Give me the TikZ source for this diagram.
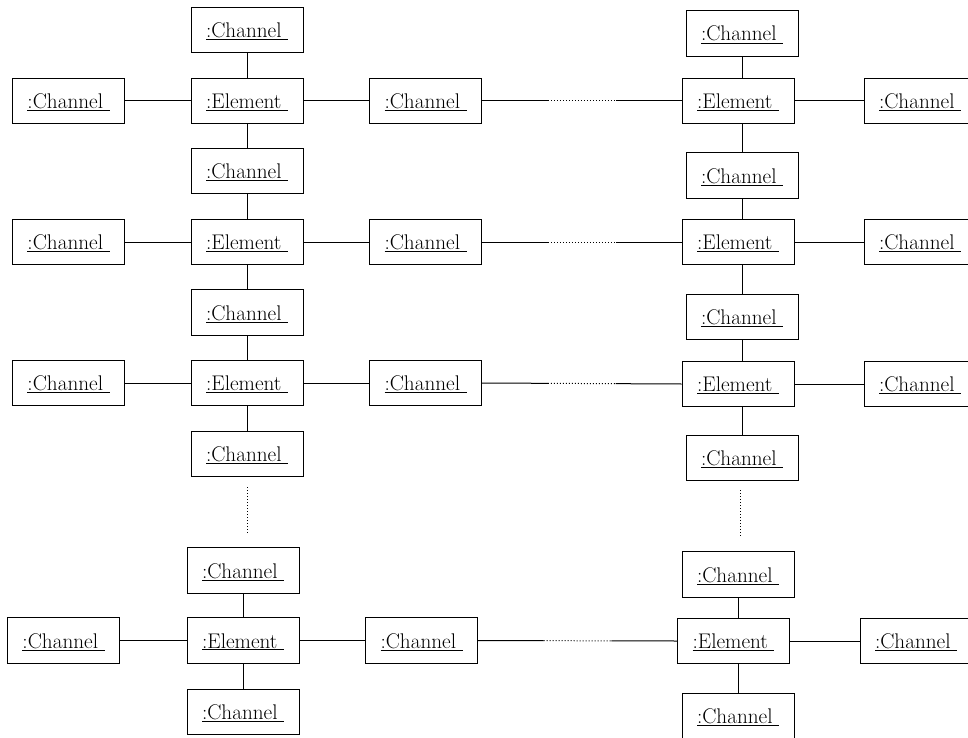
\documentclass[tikz,border=0pt]{standalone}
\usetikzlibrary{calc}
\newcommand\chtext{\underline{:Channel\ }}
\newcommand\eltext{\underline{:Element\ }}
\tikzset{
  obj/.style={draw, line width=1pt, minimum width=112pt, minimum height=45.5pt, inner sep=0pt,
    text height=15pt, text depth=0pt, font=\fontsize{21.2}{26}\selectfont},
  conn/.style={line width=1pt},
  dots/.style={line width=1pt, dotted}
}
\begin{document}
\begin{tikzpicture}[x=1pt,y=1pt]
\useasboundingbox (0,0) rectangle (968,-738);
\clip (0,0) rectangle (968,-738);
% left column
\node[obj] (lt1)  at (247,-30)    {\chtext};
\node[obj] (le1)  at (247,-101)   {\eltext};
\node[obj] (lc12) at (247,-171)   {\chtext};
\node[obj] (le2)  at (247,-242)   {\eltext};
\node[obj] (lc23) at (247,-312.5) {\chtext};
\node[obj] (le3)  at (247,-383)   {\eltext};
\node[obj] (lb3)  at (247,-454)   {\chtext};
\node[obj] (lt4)  at (243,-570.5) {\chtext};
\node[obj] (le4)  at (243,-640.5) {\eltext};
\node[obj] (lb4)  at (243,-712)   {\chtext};
% left side channels
\node[obj] (ll1) at (68.5,-101)   {\chtext};
\node[obj] (ll2) at (68.5,-242)   {\chtext};
\node[obj] (ll3) at (68.5,-383)   {\chtext};
\node[obj] (ll4) at (63.5,-640.5) {\chtext};
% middle channels
\node[obj] (lm1) at (425.5,-101)   {\chtext};
\node[obj] (lm2) at (425.5,-242)   {\chtext};
\node[obj] (lm3) at (425.5,-383)   {\chtext};
\node[obj] (lm4) at (421.5,-640.5) {\chtext};
% right column
\node[obj] (rt1)  at (742,-33.5) {\chtext};
\node[obj] (re1)  at (738,-101)  {\eltext};
\node[obj] (rc12) at (742,-175.5){\chtext};
\node[obj] (re2)  at (738,-242)  {\eltext};
\node[obj] (rc23) at (742,-317)  {\chtext};
\node[obj] (re3)  at (738,-384)  {\eltext};
\node[obj] (rb3)  at (742,-458)  {\chtext};
\node[obj] (rt4)  at (738,-574.5){\chtext};
\node[obj] (re4)  at (733.5,-641){\eltext};
\node[obj] (rb4)  at (738,-716)  {\chtext};
% right side channels
\node[obj] (rr1) at (920,-101) {\chtext};
\node[obj] (rr2) at (920,-242) {\chtext};
\node[obj] (rr3) at (920,-384) {\chtext};
\node[obj] (rr4) at (916,-641) {\chtext};
% dotted gap coordinates
\coordinate (ld1) at (247,-487);
\coordinate (ld2) at (247,-533);
\coordinate (rd1) at (740,-490);
\coordinate (rd2) at (740,-537);
% left column vertical connectors
\draw[conn] (lt1) -- (le1);
\draw[conn] (le1) -- (lc12);
\draw[conn] (lc12) -- (le2);
\draw[conn] (le2) -- (lc23);
\draw[conn] (lc23) -- (le3);
\draw[conn] (le3) -- (lb3);
\draw[conn] (lt4) -- (le4);
\draw[conn] (le4) -- (lb4);
\draw[dots] (ld1) -- (ld2);
% right column vertical connectors
\draw[conn] (rt1.south) -- (rt1.south |- re1.north);
\draw[conn] (rc12.north) -- (rc12.north |- re1.south);
\draw[conn] (rc12.south) -- (rc12.south |- re2.north);
\draw[conn] (rc23.north) -- (rc23.north |- re2.south);
\draw[conn] (rc23.south) -- (rc23.south |- re3.north);
\draw[conn] (rb3.north) -- (rb3.north |- re3.south);
\draw[conn] (rt4.south) -- (rt4.south |- re4.north);
\draw[conn] (rb4.north) -- (rb4.north |- re4.south);
\draw[dots] (rd1) -- (rd2);
% horizontal connectors
\foreach \a/\b in {ll1/le1,ll2/le2,ll3/le3,ll4/le4,le1/lm1,le2/lm2,le3/lm3,le4/lm4,re1/rr1,re2/rr2,re3/rr3,re4/rr4}{
  \draw[conn] (\a.east) -- (\b.west);
}
\foreach \m/\e in {lm1/re1,lm2/re2,lm3/re3,lm4/re4}{
  \draw[conn] (\m.east) -- ($(\m.east)!.33!(\e.west)$);
  \draw[dots] ($(\m.east)!.33!(\e.west)$) -- ($(\m.east)!.67!(\e.west)$);
  \draw[conn] ($(\m.east)!.67!(\e.west)$) -- (\e.west);
}
\end{tikzpicture}
\end{document}
